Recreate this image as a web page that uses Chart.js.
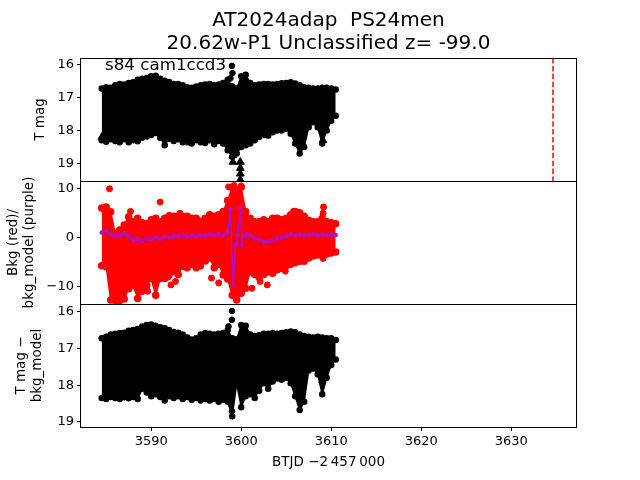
<!DOCTYPE html>
<html>
<head>
<meta charset="utf-8">
<script src="https://cdn.jsdelivr.net/npm/chart.js@4/dist/chart.umd.min.js"></script>
<style>
  body { margin: 0; background: #fff; width: 640px; height: 480px; position: relative; overflow: hidden; }
  canvas { position: absolute; left: 0; }
</style>
</head>
<body>
<canvas id="magChart" width="640" height="200" style="top:0px"></canvas>
<canvas id="bkgChart" width="640" height="160" style="top:160px"></canvas>
<canvas id="diffChart" width="640" height="190" style="top:290px"></canvas>
<script>
"use strict";

// Light curve envelope, sampled every half day (BTJD - 2457000)
const times = [3584.5, 3585, 3585.5, 3586, 3586.5, 3587, 3587.5, 3588, 3588.5, 3589, 3589.5,
  3590, 3590.5, 3591, 3591.5, 3592, 3592.5, 3593, 3593.5, 3594, 3594.5, 3595, 3595.5,
  3596, 3596.5, 3597, 3597.5, 3598, 3598.5, 3599, 3599.5, 3600, 3600.5, 3601, 3601.5,
  3602, 3602.5, 3603, 3603.5, 3604, 3604.5, 3605, 3605.5, 3606, 3606.5, 3607, 3607.5,
  3608, 3608.5, 3609, 3609.5, 3610, 3610.5];

// Panel 1: T mag, bright and faint edge of the dense points
const tmagBright = [16.72, 16.68, 16.70, 16.62, 16.58, 16.60, 16.55, 16.53, 16.45, 16.42, 16.40,
  16.35, 16.33, 16.42, 16.48, 16.52, 16.58, 16.58, 16.62, 16.68, 16.70, 16.66, 16.62,
  16.60, 16.58, 16.62, 16.60, 16.55, 16.45, 16.65, 16.72, 16.35, 16.30, 16.55, 16.62,
  16.60, 16.58, 16.58, 16.60, 16.58, 16.56, 16.55, 16.53, 16.57, 16.62, 16.68, 16.70,
  16.72, 16.72, 16.70, 16.70, 16.72, 16.75];
const tmagFaint = [18.30, 18.34, 18.27, 18.32, 18.36, 18.27, 18.36, 18.30, 18.33, 18.22, 18.18,
  18.14, 18.08, 18.22, 18.45, 18.25, 18.32, 18.27, 18.36, 18.30, 18.40, 18.30, 18.36,
  18.38, 18.30, 18.42, 18.32, 18.40, 18.60, 18.80, 18.70, 18.50, 18.45, 18.40, 18.30,
  18.20, 18.10, 18.15, 18.05, 18.00, 18.00, 17.95, 18.10, 18.40, 18.70, 18.50, 17.90,
  17.75, 17.90, 18.40, 18.00, 17.70, 17.55];
// upper limits (triangles) and isolated points
const limT = [3584.52, 3589.2, 3593.45, 3594.26, 3599.08, 3599.08, 3599.9, 3599.9, 3599.9, 3599.9, 3602.86, 3609.08];
const limMag = [18.2, 18.15, 18.15, 18.37, 18.76, 18.96, 18.96, 19.15, 19.32, 19.5, 18.15, 18.3];
const spikeT = [3598.8, 3598.97, 3599.03];
const spikeMag = [16.41, 16.03, 16.25];
const discoveryT = 3634.65;

// Panel 2: background flux (red) and background model (purple)
const bkgHigh = [6.0, 6.2, 5.2, 0.8, 1.5, 2.5, 4.2, 3.2, 3.9, 3.0, 2.8,
  3.6, 3.9, 3.2, 3.9, 4.4, 4.3, 4.3, 4.3, 4.3, 3.9, 3.9, 3.3,
  3.9, 4.6, 4.3, 4.6, 5.3, 7.5, 10.2, 9.5, 10.2, 5.3, 3.9, 3.2,
  3.2, 3.6, 3.2, 3.9, 3.9, 3.6, 3.9, 4.6, 5.3, 5.0, 4.3, 3.5,
  3.2, 3.2, 3.9, 3.2, 3.0, 2.8];
const bkgLow = [-5.8, -6.0, -12.8, -12.9, -12.9, -12.6, -10.5, -9.8, -12.5, -11.0, -9.8,
  -8.4, -11.8, -8.4, -8.4, -7.6, -6.9, -7.6, -5.9, -6.2, -5.5, -6.2, -4.8,
  -4.8, -4.2, -6.2, -5.5, -7.7, -8.5, -11.8, -12.8, -11.4, -10.4, -7.0, -7.6,
  -8.2, -7.6, -7.0, -7.3, -6.6, -6.3, -5.8, -5.5, -5.2, -4.9, -4.9, -4.2,
  -3.8, -3.6, -3.3, -3.4, -3.2, -3.0];
const bkgOutT = [3585.37, 3587.7, 3591.0, 3593.2, 3589.6, 3591.9, 3592.2, 3592.7, 3595.5, 3596.7, 3597.5,
  3598.6, 3599.2, 3600.0, 3601.2, 3602.1, 3602.9, 3604.9, 3605.8, 3609.15, 3609.1, 3609.1];
const bkgOutV = [9.9, 5.3, 7.2, 4.9, -11.0, -8.1, -9.7, -9.0, -5.9, -8.3, -9.3,
  10.3, 10.6, 10.5, -10.4, -9.0, -9.7, -6.9, 5.3, 6.2, 4.9, -4.3];
const modelT = [3584.5, 3585, 3585.5, 3586, 3586.5, 3587, 3587.5, 3588, 3588.5, 3589, 3589.5,
  3590, 3590.5, 3591, 3591.5, 3592, 3592.5, 3593, 3593.5, 3594, 3594.5, 3595, 3595.5,
  3596, 3596.5, 3597, 3597.5, 3598, 3598.5, 3598.8, 3599.1, 3599.4, 3599.65, 3599.9, 3600.1,
  3600.3, 3600.6, 3601, 3601.5, 3602, 3602.5, 3603, 3603.5, 3604, 3604.5, 3605, 3605.5,
  3606, 3606.5, 3607, 3607.5, 3608, 3608.5, 3609, 3609.5, 3610, 3610.5];
const modelV = [1.0, 1.4, 0.6, 0.2, 0.3, 0.9, 0.2, -0.6, -0.4, -0.7, -0.3,
  -0.5, 0.1, -0.4, 0.2, -0.1, 0.3, 0.2, 0.5, 0.1, 0.4, 0.2, 0.5,
  0.3, 0.6, 0.4, 0.7, 0.5, 1.0, 5.8, -9.5, -1.5, 0.5, 6.0, -1.5,
  0.5, 0.6, 0.4, -0.3, -0.5, -1.0, -0.8, -0.6, -0.3, 0.1, 0.2, 0.6,
  0.4, 0.6, 0.3, 0.5, 0.7, 0.5, 0.6, 0.5, 0.6, 0.5];

// Panel 3: T mag minus background model
const diffBright = [16.72, 16.68, 16.62, 16.60, 16.58, 16.57, 16.52, 16.50, 16.47, 16.40, 16.36,
  16.35, 16.38, 16.42, 16.45, 16.50, 16.55, 16.57, 16.62, 16.70, 16.76, 16.72, 16.62,
  16.58, 16.60, 16.62, 16.60, 16.58, 16.50, 16.72, 16.75, 16.36, 16.38, 16.62, 16.66,
  16.64, 16.60, 16.60, 16.58, 16.60, 16.58, 16.56, 16.54, 16.56, 16.62, 16.66, 16.68,
  16.70, 16.68, 16.70, 16.72, 16.72, 16.77];
const diffFaint = [18.35, 18.38, 18.32, 18.35, 18.38, 18.33, 18.36, 18.32, 18.38, 18.10, 18.20,
  18.30, 18.25, 18.32, 18.42, 18.30, 18.35, 18.30, 18.38, 18.32, 18.40, 18.35, 18.42,
  18.38, 18.42, 18.38, 18.45, 18.40, 18.45, 18.85, 17.95, 18.60, 18.30, 18.25, 18.35,
  18.15, 17.95, 18.10, 17.90, 17.82, 17.85, 17.80, 17.95, 18.30, 18.68, 18.45, 17.60,
  17.55, 17.70, 18.25, 17.80, 17.45, 17.30];
const diffOutT = [3598.59, 3598.97, 3598.97, 3598.97, 3589.26, 3591.44, 3600.97, 3608.96];
const diffOutMag = [16.4, 15.98, 16.22, 18.71, 17.99, 18.1, 18.14, 17.92];

// Axes and labels
const xMin = 3582.2, xMax = 3637.2;
const xTicks = [3590, 3600, 3610, 3620, 3630];
const magRange = [15.79, 19.54], magTicks = [16, 17, 18, 19];
const bkgRange = [-13.6, 11.5], bkgTicks = [-10, 0, 10];
const diffRange = [15.79, 19.14], diffTicks = [16, 17, 18, 19];
const titleLines = ["AT2024adap  PS24men", "20.62w-P1 Unclassified z= -99.0"];
const sectorLabel = "s84 cam1ccd3";
const xLabel = "BTJD \u22122\u2009457\u2009000";

Chart.defaults.font.family = "'DejaVu Sans', sans-serif";
Chart.defaults.font.size = 13;
Chart.defaults.color = "#000";
Chart.defaults.animation = false;

const pts = (xs, ys) => xs.map((x, i) => ({ x: x, y: ys[i] }));
const minusFmt = v => (v < 0 ? "\u2212" + Math.abs(v) : String(v));

// Box around each panel (matplotlib spines)
const frame = {
  id: "frame",
  afterDraw(chart) {
    const { ctx, chartArea: a } = chart;
    ctx.save();
    ctx.strokeStyle = "#000";
    ctx.lineWidth = 1;
    ctx.strokeRect(Math.round(a.left) - 0.5, Math.round(a.top) + 0.5, Math.round(a.width) + 1, Math.round(a.height));
    ctx.restore();
  }
};

// Sector / camera text in top-left of first panel
const ccdLabel = {
  id: "ccdLabel",
  afterDraw(chart) {
    const { ctx, chartArea: a } = chart;
    ctx.save();
    ctx.font = "16.7px 'DejaVu Sans'";
    ctx.fillStyle = "#000";
    ctx.textBaseline = "alphabetic";
    ctx.fillText(sectorLabel, a.left + 24, a.top + 12);
    ctx.restore();
  }
};

function yScale(range, ticks, title, titlePad, reverse) {
  return {
    type: "linear",
    min: range[0],
    max: range[1],
    reverse: reverse,
    afterFit: s => { s.width = 81; },
    afterBuildTicks: s => { s.ticks = ticks.map(v => ({ value: v })); },
    grid: { drawOnChartArea: false, color: "#000", tickLength: 4 },
    border: { display: false },
    ticks: { padding: 3, callback: minusFmt },
    title: {
      display: true,
      text: title,
      font: { size: 13.5, lineHeight: 1.25 },
      padding: { top: titlePad, bottom: 0 }
    }
  };
}

function xScale(show) {
  return {
    type: "linear",
    min: xMin,
    max: xMax,
    display: show,
    // only the bottom panel carries the shared x axis
    afterFit: s => { s.height = show ? 53 : 0; },
    afterBuildTicks: s => { s.ticks = xTicks.map(v => ({ value: v })); },
    grid: { drawOnChartArea: false, color: "#000", tickLength: 4 },
    border: { display: false },
    ticks: { padding: 3, maxRotation: 0, callback: v => String(v) },
    title: { display: true, text: xLabel, font: { size: 13.5 }, padding: { top: 0, bottom: 9 } }
  };
}

function baseOptions(padding, x, y) {
  return {
    responsive: false,
    maintainAspectRatio: false,
    animation: false,
    layout: { padding: padding },
    scales: { x: x, y: y },
    plugins: { legend: { display: false }, tooltip: { enabled: false } }
  };
}

// Band helper: two edge lines filled between them
function band(xs, lo, hi, color, radius) {
  return [
    { data: pts(xs, lo), borderColor: color, backgroundColor: color, borderWidth: 1.5,
      pointRadius: radius, fill: false, order: 3 },
    { data: pts(xs, hi), borderColor: color, backgroundColor: color, borderWidth: 1.5,
      pointRadius: radius, fill: "-1", order: 3 }
  ];
}

// Panel 1 - T mag
const magOpts = baseOptions({ top: 0, left: 0, right: 64, bottom: 19 }, xScale(false),
  yScale(magRange, magTicks, "T mag", 31.6, true));
magOpts.plugins.title = {
  display: true,
  text: titleLines,
  fullSize: false,
  color: "#000",
  font: { size: 20, weight: "normal", lineHeight: 1.15 },
  padding: { top: 9.5, bottom: 2.5 }
};
new Chart(document.getElementById("magChart"), {
  type: "line",
  data: {
    datasets: band(times, tmagBright, tmagFaint, "#000", 2.5).concat([
      { data: pts(limT, limMag), showLine: false, pointStyle: "triangle", pointRadius: 4.5,
        backgroundColor: "#000", borderColor: "#000", order: 2 },
      { data: pts(spikeT, spikeMag), showLine: false, pointRadius: 2.8,
        backgroundColor: "#000", borderColor: "#000", order: 2 },
      { data: [{ x: discoveryT, y: magRange[0] }, { x: discoveryT, y: magRange[1] }],
        borderColor: "#ff0000", borderWidth: 1.5, borderDash: [5.5, 2.4], pointRadius: 0, order: 1 }
    ])
  },
  options: magOpts,
  plugins: [frame, ccdLabel]
});

// Panel 2 - background
new Chart(document.getElementById("bkgChart"), {
  type: "line",
  data: {
    datasets: band(times, bkgLow, bkgHigh, "#ff0000", 3).concat([
      { data: pts(bkgOutT, bkgOutV), showLine: false, pointRadius: 3,
        backgroundColor: "#ff0000", borderColor: "#ff0000", order: 2 },
      { data: pts(modelT, modelV), borderColor: "#aa14c8", backgroundColor: "#aa14c8",
        borderWidth: 1.5, pointRadius: 1.5, fill: false, order: 1 }
    ])
  },
  options: baseOptions({ top: 21, left: 0, right: 64, bottom: 16 }, xScale(false),
    yScale(bkgRange, bkgTicks, ["Bkg (red)/", "bkg_model (purple)"], 4.6, false)),
  plugins: [frame]
});

// Panel 3 - T mag minus background model
new Chart(document.getElementById("diffChart"), {
  type: "line",
  data: {
    datasets: band(times, diffBright, diffFaint, "#000", 2.5).concat([
      { data: pts(diffOutT, diffOutMag), showLine: false, pointRadius: 2.8,
        backgroundColor: "#000", borderColor: "#000", order: 2 }
    ])
  },
  options: baseOptions({ top: 14, left: 0, right: 64, bottom: 0 }, xScale(true),
    yScale(diffRange, diffTicks, ["T mag \u2212", "bkg_model"], 12.6, true)),
  plugins: [frame]
});
</script>
</body>
</html>
